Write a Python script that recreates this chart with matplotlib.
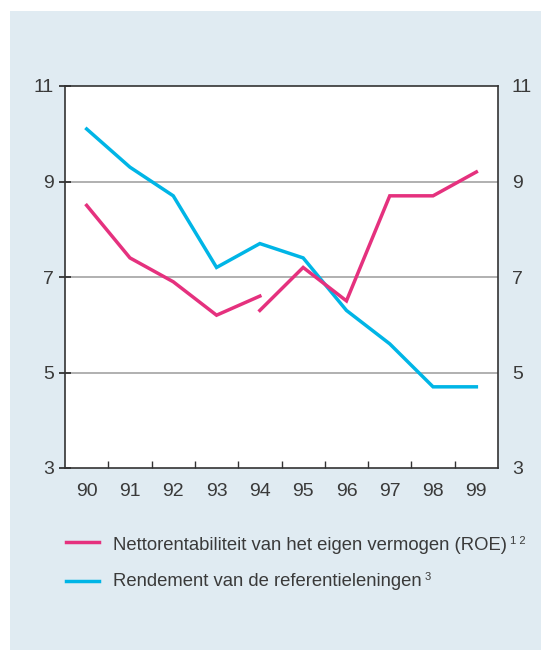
import matplotlib
matplotlib.use("Agg")
from matplotlib import pyplot as plt
from matplotlib.patches import Rectangle
from matplotlib.lines import Line2D

plt.rcParams['font.family'] = ['Liberation Sans', 'DejaVu Sans']

years = [90, 91, 92, 93, 94, 95, 96, 97, 98, 99]
year_labels = ["90", "91", "92", "93", "94", "95", "96", "97", "98", "99"]
# ROE series has a break in 94
roe_years_a = [90, 91, 92, 93, 94]
roe_a = [8.5, 7.4, 6.9, 6.2, 6.6]
roe_years_b = [94, 95, 96, 97, 98, 99]
roe_b = [6.3, 7.2, 6.5, 8.7, 8.7, 9.2]
ref_loans = [10.1, 9.3, 8.7, 7.2, 7.7, 7.4, 6.3, 5.6, 4.7, 4.7]
yticks = [3, 5, 7, 9, 11]

pink = "#E5317E"
blue = "#00B5E6"
bg = "#E0EBF2"
txt = "#3a3a3a"

fig = plt.figure(figsize=(5.41, 6.5), dpi=100)
fig.patches.append(Rectangle((10 / 541, 0), 1, 1 - 11 / 650, transform=fig.transFigure,
                             facecolor=bg, edgecolor="none", zorder=-10))

ax = fig.add_axes([65 / 541, 1 - 468 / 650, 433 / 541, 382 / 650])
ax.set_facecolor("white")
ax.set_xlim(89.5, 99.5)
ax.set_ylim(3, 11)

for y in [5, 7, 9]:
    ax.axhline(y, color="#aaaaaa", lw=1.3, zorder=1)

ax.plot(years, ref_loans, color=blue, lw=2.5, zorder=3, solid_joinstyle="miter")
ax.plot(roe_years_a, roe_a, color=pink, lw=2.5, zorder=4, solid_joinstyle="miter")
ax.plot(roe_years_b, roe_b, color=pink, lw=2.5, zorder=4, solid_joinstyle="miter")

for s in ax.spines.values():
    s.set_color("#333333")
    s.set_linewidth(1.2)

# ticks at year boundaries, labels at centers
ax.set_xticks([y + 0.5 for y in years[:-1]])
ax.set_xticklabels([])
ax.set_xticks(years, minor=True)
ax.set_xticklabels(year_labels, minor=True)
ax.tick_params(axis="x", which="major", direction="in", length=5, width=1, color="#333333")
ax.tick_params(axis="x", which="minor", length=0, pad=11, labelsize=14, labelcolor=txt)

ax.set_yticks(yticks)
ax.set_yticklabels([str(v) for v in yticks])
ax.tick_params(axis="y", direction="inout", length=8, width=1.3, color="#333333",
               labelsize=14, labelcolor=txt, pad=4, right=False)
sec = ax.secondary_yaxis("right")
sec.set_yticks(yticks)
sec.set_yticklabels([str(v) for v in yticks])
sec.tick_params(length=0, pad=10, labelsize=14, labelcolor=txt)
sec.spines["right"].set_visible(False)

# legend drawn manually
fig.add_artist(Line2D([66 / 541, 99 / 541], [1 - 542 / 650] * 2, color=pink, lw=2.5,
                      transform=fig.transFigure))
fig.add_artist(Line2D([66 / 541, 99 / 541], [1 - 581 / 650] * 2, color=blue, lw=2.5,
                      transform=fig.transFigure))
t1 = fig.text(113 / 541, 1 - 545 / 650, "Nettorentabiliteit van het eigen vermogen (ROE)",
              fontsize=13.3, color=txt, va="center")
t2 = fig.text(113 / 541, 1 - 582 / 650, "Rendement van de referentieleningen",
              fontsize=13.3, color=txt, va="center")
fig.canvas.draw()
r = fig.canvas.get_renderer()
for t, sup in [(t1, "1 2"), (t2, "3")]:
    bb = t.get_window_extent(r)
    fig.text((bb.x1 + 3) / 541, (bb.y1 + 1) / 650, sup, fontsize=8, color=txt, va="top")

fig.savefig("out.png", dpi=100)
